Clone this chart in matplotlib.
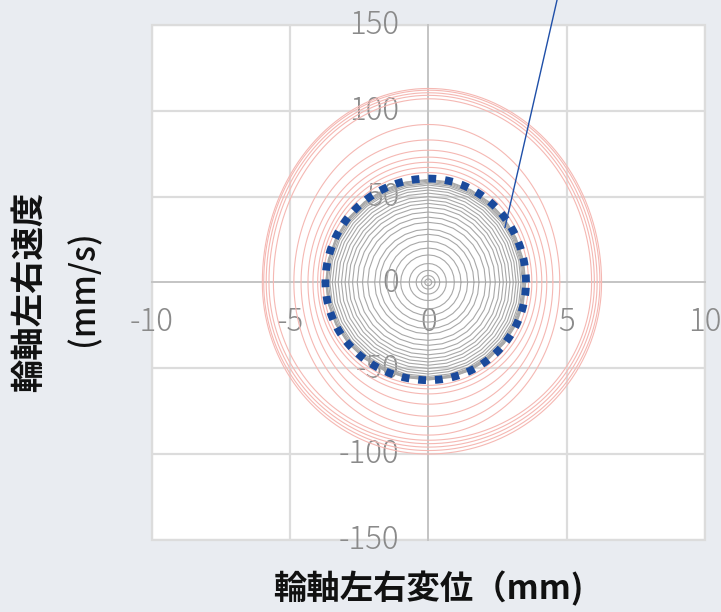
import numpy as np
import matplotlib
matplotlib.use("Agg")
import matplotlib.pyplot as plt
from matplotlib.patches import Rectangle
from matplotlib.transforms import ScaledTranslation
from matplotlib import font_manager as fm

plt.rcParams['font.family'] = ['Noto Sans CJK JP', 'DejaVu Sans']
plt.rcParams['axes.unicode_minus'] = False

# Trajectory starting near the origin, growing toward the limit cycle.
# Each entry is one revolution: right / left displacement extent (mm),
# upper / lower velocity extent (mm/s).
grow_right = [0.12, 0.24, 0.41, 0.65, 0.94, 1.18, 1.42, 1.65, 1.83, 2.07, 2.24,
              2.42, 2.58, 2.71, 2.83, 2.95, 3.07, 3.17, 3.26, 3.35, 3.40, 3.44,
              3.47, 3.50, 3.52]
grow_left = [0.13, 0.25, 0.44, 0.69, 1.00, 1.25, 1.50, 1.76, 1.94, 2.19, 2.38,
             2.57, 2.74, 2.88, 3.01, 3.14, 3.26, 3.37, 3.47, 3.56, 3.61, 3.66,
             3.68, 3.70, 3.71]
grow_top = [2.0, 4.0, 7.0, 11.0, 16.0, 20.0, 24.0, 28.0, 31.0, 35.0, 38.0,
            41.0, 43.7, 46.0, 48.0, 50.0, 52.0, 53.8, 55.3, 56.7, 57.6, 58.3,
            59.0, 59.6, 60.0]
grow_bottom = [1.9, 3.9, 6.8, 10.6, 15.5, 19.3, 23.2, 27.0, 30.0, 33.8, 36.7,
               39.6, 42.2, 44.4, 46.4, 48.3, 50.2, 52.0, 53.4, 54.8, 55.6, 56.0,
               56.4, 56.7, 56.9]

# Trajectories starting outside, decaying toward the limit cycle.
decay_right = [6.26, 6.20, 6.10, 6.00, 5.90, 4.75, 4.50, 4.28, 4.10, 3.92, 3.74, 3.62]
decay_left = [6.00, 5.95, 5.86, 5.76, 5.60, 4.86, 4.60, 4.35, 4.17, 4.00, 3.90, 3.80]
decay_top = [113.0, 112.0, 110.5, 109.0, 107.0, 92.0, 83.0, 77.0, 73.0, 70.0, 67.0, 64.0]
decay_bottom = [100.0, 98.0, 96.0, 94.0, 92.0, 89.0, 84.0, 78.0, 71.0, 65.0, 62.0, 60.0]

# Limit cycle
cycle_right, cycle_left, cycle_top, cycle_bottom = 3.53, 3.72, 60.5, 57.0

# Callout leader line (data coordinates)
callout_start = (2.77, 32.0)
callout_end = (4.65, 164.5)

x_ticks = [-10, -5, 0, 5, 10]
y_ticks = [-150, -100, -50, 0, 50, 100, 150]


def loop_xy(right, left, top, bottom, n):
    t = np.linspace(0.0, 2.0 * np.pi, n + 1)
    c, s = np.cos(t), np.sin(t)
    x = np.where(c >= 0, right, left) * c
    y = np.where(s >= 0, top, bottom) * s
    return x, y


def find_light_font():
    for fam in ['Noto Sans CJK JP', 'Lato', 'Roboto', 'Open Sans', 'Inter', 'Noto Sans']:
        for f in fm.fontManager.ttflist:
            w = f.weight
            if isinstance(w, str):
                w = fm.weight_dict.get(w, 400)
            if f.name == fam and 250 <= w <= 320 and f.style == 'normal':
                return f.fname
    return None


light_path = find_light_font()
if light_path:
    tick_font = fm.FontProperties(fname=light_path, size=22.5)
else:
    tick_font = fm.FontProperties(family='Noto Sans CJK JP', size=22.5)

fig = plt.figure(figsize=(7.21, 6.12), dpi=100, facecolor='#e9ecf1')
ax = fig.add_axes([0.2103, 0.118, 0.7676, 0.8412])
ax.set_facecolor('white')

grid_c = '#dcdcdc'
for xv in x_ticks:
    if xv != 0:
        ax.axvline(xv, color=grid_c, lw=1.6, zorder=0)
for yv in y_ticks:
    if yv != 0:
        ax.axhline(yv, color=grid_c, lw=1.6, zorder=0)

for r, l, t, b in zip(decay_right, decay_left, decay_top, decay_bottom):
    x, y = loop_xy(r, l, t, b, 160)
    ax.plot(x, y, color='#f5b8b3', lw=0.8, zorder=2)

for r, l, t, b in zip(grow_right, grow_left, grow_top, grow_bottom):
    x, y = loop_xy(r, l, t, b, 28)
    ax.plot(x, y, color='#a8a8a8', lw=0.8, zorder=3)

cx, cy = loop_xy(cycle_right, cycle_left, cycle_top, cycle_bottom, 400)
ax.plot(cx, cy, color='#1a4a9c', lw=5.6, dashes=(1.0, 1.15),
        dash_capstyle='butt', zorder=5)

ax.plot([callout_start[0], callout_end[0]], [callout_start[1], callout_end[1]],
        color='#1f4fa8', lw=1.0, clip_on=False, zorder=6)

ax.set_xlim(-10, 10)
ax.set_ylim(-150, 150)
ax.set_xticks(x_ticks)
ax.set_yticks(y_ticks)
ax.set_xticklabels([str(v) for v in x_ticks])
ax.set_yticklabels([str(v) for v in y_ticks])

for side in ['top', 'right']:
    ax.spines[side].set_visible(False)
ax.spines['left'].set_position(('data', 0))
ax.spines['bottom'].set_position(('data', 0))
for side in ['left', 'bottom']:
    ax.spines[side].set_color('#c4c4c4')
    ax.spines[side].set_linewidth(1.4)
    ax.spines[side].set_zorder(1)

ax.tick_params(axis='both', length=0, labelcolor='#8a8a8a')
ax.tick_params(axis='y', pad=21)
ax.tick_params(axis='x', pad=17)
for lab in ax.get_xticklabels() + ax.get_yticklabels():
    lab.set_fontproperties(tick_font)

# nudge the velocity labels slightly upward
lift = ScaledTranslation(0, 3 / 100, fig.dpi_scale_trans)
for tk in ax.yaxis.get_major_ticks():
    tk.label1.set_transform(tk.label1.get_transform() + lift)

ax.add_patch(Rectangle((0, 0), 1, 1, transform=ax.transAxes, fill=False,
                       edgecolor=grid_c, lw=1.6, zorder=1, clip_on=False))

fig.text(0.5936, 0.0376, '輪軸左右変位（mm)', fontsize=24, fontweight='bold',
         ha='center', va='center', color='#111111')
fig.text(0.0402, 0.5237, '輪軸左右速度', fontsize=24, fontweight='bold',
         rotation=90, ha='center', va='center', color='#111111')
fig.text(0.1165, 0.5286, '(mm/s)', fontsize=24, fontweight='medium',
         rotation=90, ha='center', va='center', color='#111111')

fig.savefig('out.png', dpi=100, facecolor=fig.get_facecolor())
